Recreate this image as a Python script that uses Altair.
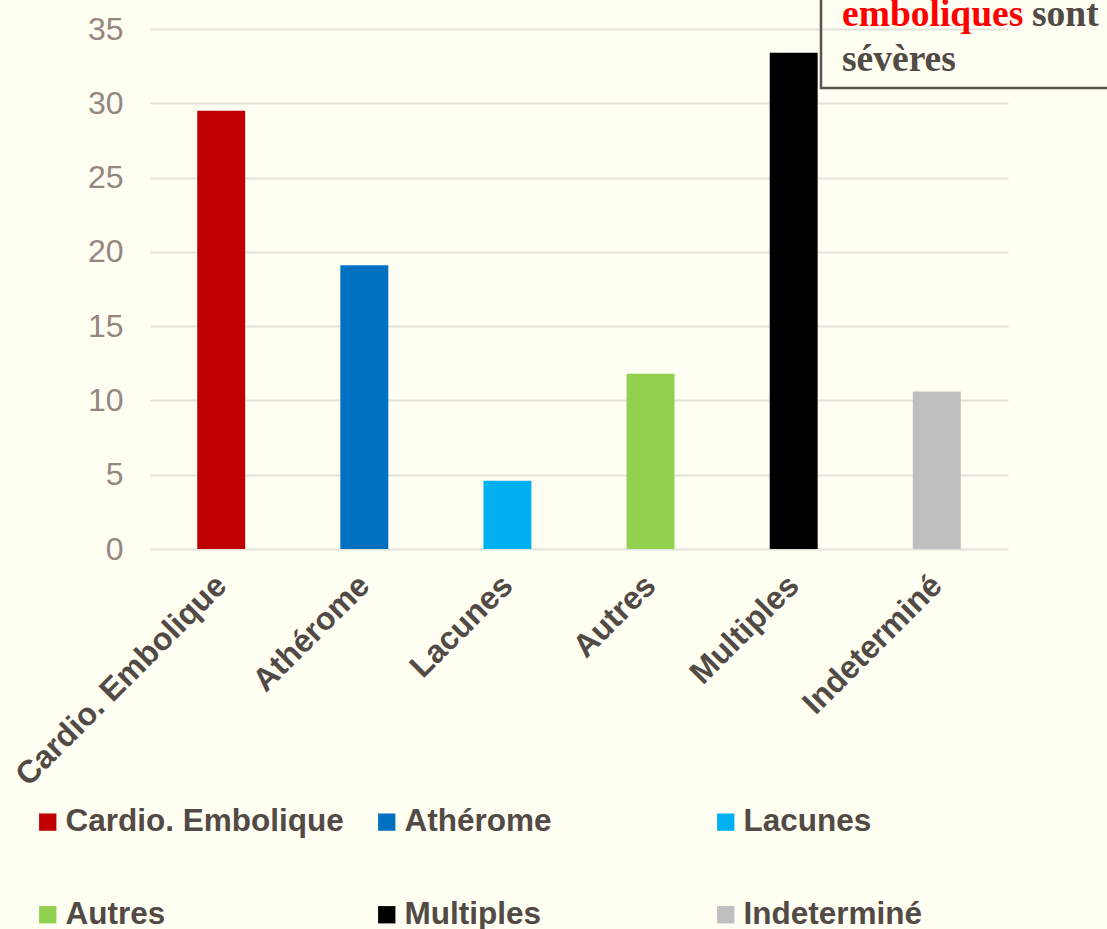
import altair as alt
import pandas as pd

# Stroke subtypes and their share (%)
categories = ["Cardio. Embolique", "Athérome", "Lacunes", "Autres", "Multiples", "Indeterminé"]
values = [29.5, 19.1, 4.6, 11.8, 33.4, 10.6]
colors = ["#C00000", "#0070C0", "#00B0F0", "#92D050", "#000000", "#BFBFBF"]
y_ticks = [0, 5, 10, 15, 20, 25, 30, 35]

# Callout text lines
callout_red = "emboliques"
callout_rest = "sont"
callout_line2 = "sévères"

BG = "#FFFEF3"
DARK = "#524A45"
W, H = 858, 520

df = pd.DataFrame({"cat": categories, "val": values})

bars = alt.Chart(df).mark_bar().encode(
    x=alt.X(
        "cat:N",
        sort=categories,
        scale=alt.Scale(paddingInner=0.665, paddingOuter=0.33),
        axis=alt.Axis(
            title=None,
            labelAngle=-45,
            labelAlign="right",
            labelBaseline="middle",
            labelFont="Liberation Sans",
            labelFontSize=32,
            labelFontWeight="bold",
            labelColor=DARK,
            labelPadding=31,
            ticks=False,
            domain=False,
            grid=False,
            labelLimit=400,
        ),
    ),
    y=alt.Y(
        "val:Q",
        scale=alt.Scale(domain=[0, 35], nice=False),
        axis=alt.Axis(
            title=None,
            values=y_ticks,
            labelFont="Liberation Sans",
            labelFontSize=32,
            labelColor="#958680",
            labelPadding=27,
            ticks=False,
            domain=False,
            gridColor="#E4E2DC",
            gridWidth=2,
        ),
    ),
    color=alt.Color(
        "cat:N",
        sort=categories,
        scale=alt.Scale(domain=categories, range=colors),
        legend=alt.Legend(
            title=None,
            orient="none",
            direction="horizontal",
            legendX=-118,
            legendY=777,
            columns=3,
            gridAlign="all",
            columnPadding=27,
            rowPadding=60,
            symbolType="square",
            symbolSize=300,
            symbolStrokeWidth=0,
            symbolOffset=0,
            labelOffset=2,
            labelFont="Liberation Sans",
            labelFontSize=31.5,
            labelFontWeight="bold",
            labelColor=DARK,
            labelLimit=400,
        ),
    ),
)

# Callout box (open past the top and right edges)
box = alt.Chart(pd.DataFrame({"k": [0]})).mark_rect(
    fill=None, stroke="#5A524C", strokeWidth=2.5
).encode(
    x=alt.value(671), x2=alt.value(1000), y=alt.value(-60), y2=alt.value(59)
)

t1 = alt.Chart(pd.DataFrame({"t": [callout_red]})).mark_text(
    align="left", baseline="alphabetic", font="Liberation Serif",
    fontSize=37.5, fontWeight="bold", color="#FF0000"
).encode(text="t:N", x=alt.value(692), y=alt.value(-3))

t2 = alt.Chart(pd.DataFrame({"t": [callout_rest]})).mark_text(
    align="left", baseline="alphabetic", font="Liberation Serif",
    fontSize=37.5, fontWeight="bold", color=DARK
).encode(text="t:N", x=alt.value(882), y=alt.value(-3))

t3 = alt.Chart(pd.DataFrame({"t": [callout_line2]})).mark_text(
    align="left", baseline="alphabetic", font="Liberation Serif",
    fontSize=37.5, fontWeight="bold", color=DARK
).encode(text="t:N", x=alt.value(692), y=alt.value(42))

chart = alt.layer(bars, box, t1, t2, t3).properties(
    width=W,
    height=H,
    background=BG,
    autosize=alt.AutoSizeParams(type="none"),
    padding={"left": 150, "top": 29, "right": 99, "bottom": 380},
).configure_view(stroke=None)

chart.save("out.html", embed_options={"renderer": "svg", "actions": False})
